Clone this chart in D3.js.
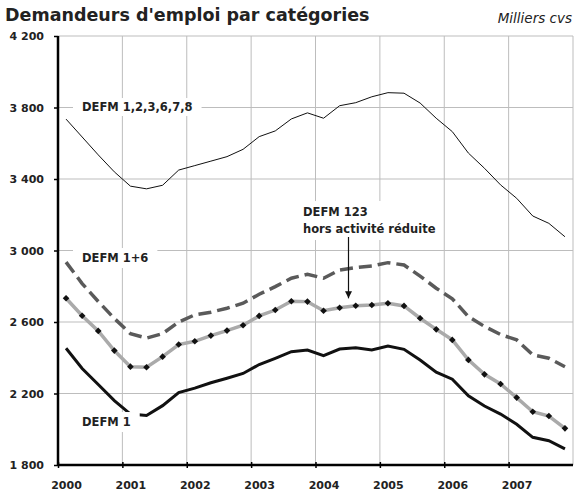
<!DOCTYPE html>
<html>
<head>
<meta charset="utf-8">
<script src="https://cdn.jsdelivr.net/npm/d3@7"></script>
<style>
  body { margin: 0; background: #fff; }
  text { font-family: "DejaVu Sans", Verdana, sans-serif; }
</style>
</head>
<body>
<div id="chart"></div>
<script>
// quarterly data, 2000 Q1 -> 2007 Q4 (milliers, cvs)
const startYear = 2000;
const years = [2000, 2001, 2002, 2003, 2004, 2005, 2006, 2007];
const yTicks = [1800, 2200, 2600, 3000, 3400, 3800, 4200];

const defm123678 = [3735, 3635, 3535, 3440, 3360, 3345, 3365, 3450,
                    3475, 3500, 3525, 3566, 3637, 3669, 3736, 3770,
                    3740, 3810, 3827, 3860, 3883, 3880, 3825, 3740,
                    3665, 3545, 3460, 3367, 3292, 3193, 3152, 3077];
const defm16 = [2935, 2815, 2715, 2620, 2535, 2510, 2535, 2600,
                2640, 2655, 2677, 2705, 2755, 2798, 2845, 2867,
                2845, 2891, 2904, 2913, 2932, 2919, 2857, 2789,
                2730, 2630, 2575, 2530, 2500, 2416, 2397, 2350];
const defm123hors = [2733, 2635, 2550, 2440, 2350, 2347, 2406, 2474,
                     2492, 2524, 2552, 2582, 2634, 2667, 2716, 2714,
                     2663, 2680, 2691, 2695, 2705, 2690, 2621, 2559,
                     2500, 2388, 2307, 2253, 2177, 2098, 2074, 2005];
const defm1 = [2453, 2340, 2250, 2160, 2085, 2077, 2132, 2205,
               2230, 2260, 2285, 2312, 2362, 2397, 2434, 2443,
               2412, 2449, 2456, 2443, 2466, 2447, 2387, 2319,
               2280, 2187, 2130, 2085, 2028, 1955, 1936, 1890];

const W = 578, H = 491;
const margin = {top: 36, right: 5, bottom: 26, left: 58};

const svg = d3.select("#chart").append("svg")
    .attr("width", W)
    .attr("height", H);

const x = d3.scaleLinear().domain([2000, 2008]).range([margin.left, W - margin.right]);
const y = d3.scaleLinear().domain([1800, 4200]).range([H - margin.bottom, margin.top]);

// quarter midpoint
const t = i => startYear + (i + 0.5) / 4;

// title
svg.append("text")
    .attr("x", 5).attr("y", 21)
    .attr("font-size", 17.5).attr("font-weight", "bold").attr("fill", "#222")
    .text("Demandeurs d'emploi par catégories");
svg.append("text")
    .attr("x", 572).attr("y", 23)
    .attr("text-anchor", "end")
    .attr("font-size", 13.5).attr("font-style", "italic").attr("fill", "#222")
    .text("Milliers cvs");

// grid
const grid = svg.append("g").attr("stroke", "#bdbdbd").attr("stroke-width", 1);
grid.selectAll(".gy").data(yTicks.slice(1)).join("line")
    .attr("x1", x(2000)).attr("x2", x(2008))
    .attr("y1", d => y(d)).attr("y2", d => y(d));
grid.selectAll(".gx").data(years.slice(1).concat([2008])).join("line")
    .attr("x1", d => x(d)).attr("x2", d => x(d))
    .attr("y1", y(4200)).attr("y2", y(1800));

// axes
const fmt = d => d3.format(",")(d).replace(",", " ");
const yAxis = svg.append("g")
    .attr("transform", "translate(" + x(2000) + ",0)")
    .call(d3.axisLeft(y).tickValues(yTicks).tickSize(4).tickPadding(10).tickFormat(fmt));
yAxis.select(".domain").attr("stroke-width", 2.5).attr("d", "M0," + y(4200) + "V" + (y(1800) + 1));
yAxis.selectAll(".tick line").attr("stroke-width", 1.5);
yAxis.selectAll("text").attr("font-size", 11).attr("font-weight", "bold").attr("fill", "#222");

const xAxis = svg.append("g")
    .attr("transform", "translate(0," + y(1800) + ")")
    .call(d3.axisBottom(x).tickValues(years).tickSize(3).tickPadding(13).tickFormat(d3.format("d")));
xAxis.select(".domain").attr("stroke-width", 2.5).attr("d", "M" + x(2000) + ",0H" + x(2008));
xAxis.selectAll(".tick line").attr("y1", -3).attr("stroke-width", 1.5);
xAxis.selectAll("text").attr("font-size", 11).attr("font-weight", "bold").attr("fill", "#222").attr("dx", 8);

// lines
const line = d3.line().x((d, i) => x(t(i))).y(d => y(d));

svg.append("path").datum(defm123678)
    .attr("fill", "none").attr("stroke", "#111").attr("stroke-width", 1)
    .attr("d", line);
svg.append("path").datum(defm16)
    .attr("fill", "none").attr("stroke", "#5a5a5a").attr("stroke-width", 3.5)
    .attr("stroke-dasharray", "13,6")
    .attr("d", line);
svg.append("path").datum(defm123hors)
    .attr("fill", "none").attr("stroke", "#aaaaaa").attr("stroke-width", 3.5)
    .attr("d", line);
svg.append("g").selectAll("path").data(defm123hors).join("path")
    .attr("d", d3.symbol().type(d3.symbolSquare).size(22))
    .attr("fill", "#111")
    .attr("transform", (d, i) => "translate(" + x(t(i)) + "," + y(d) + ") rotate(45)");
svg.append("path").datum(defm1)
    .attr("fill", "none").attr("stroke", "#111").attr("stroke-width", 3)
    .attr("d", line);

// labels with white boxes
function label(lines, lx, ly, boxPad) {
  const g = svg.append("g");
  const rect = g.append("rect").attr("fill", "#fff");
  const txt = g.append("text")
      .attr("font-size", 11.5).attr("font-weight", "bold").attr("fill", "#222");
  lines.forEach((s, k) => {
    txt.append("tspan").attr("x", lx).attr("y", ly + k * 17).attr("dy", "0.35em").text(s);
  });
  const bb = txt.node().getBBox();
  rect.attr("x", bb.x - boxPad[0]).attr("y", bb.y - boxPad[1])
      .attr("width", bb.width + 2 * boxPad[0]).attr("height", bb.height + 2 * boxPad[1]);
}
label(["DEFM 1,2,3,6,7,8"], 82, 107, [9, 2]);
label(["DEFM 1+6"], 82, 258, [9, 3]);
label(["DEFM 1"], 82, 422, [9, 3]);
label(["DEFM 123", "hors activité réduite"], 303, 212, [5, 4]);

// arrow to DEFM 123 hors activité réduite
svg.append("defs").append("marker")
    .attr("id", "ah").attr("viewBox", "0 0 10 10").attr("refX", 10).attr("refY", 5)
    .attr("markerWidth", 8).attr("markerHeight", 7).attr("markerUnits", "userSpaceOnUse")
    .attr("orient", "auto")
  .append("path").attr("d", "M0,0L10,5L0,10z").attr("fill", "#111");
svg.append("line")
    .attr("x1", 348.5).attr("x2", 348.5)
    .attr("y1", 237).attr("y2", y(2710) - 4)
    .attr("stroke", "#111").attr("stroke-width", 1.2)
    .attr("marker-end", "url(#ah)");
</script>
</body>
</html>
